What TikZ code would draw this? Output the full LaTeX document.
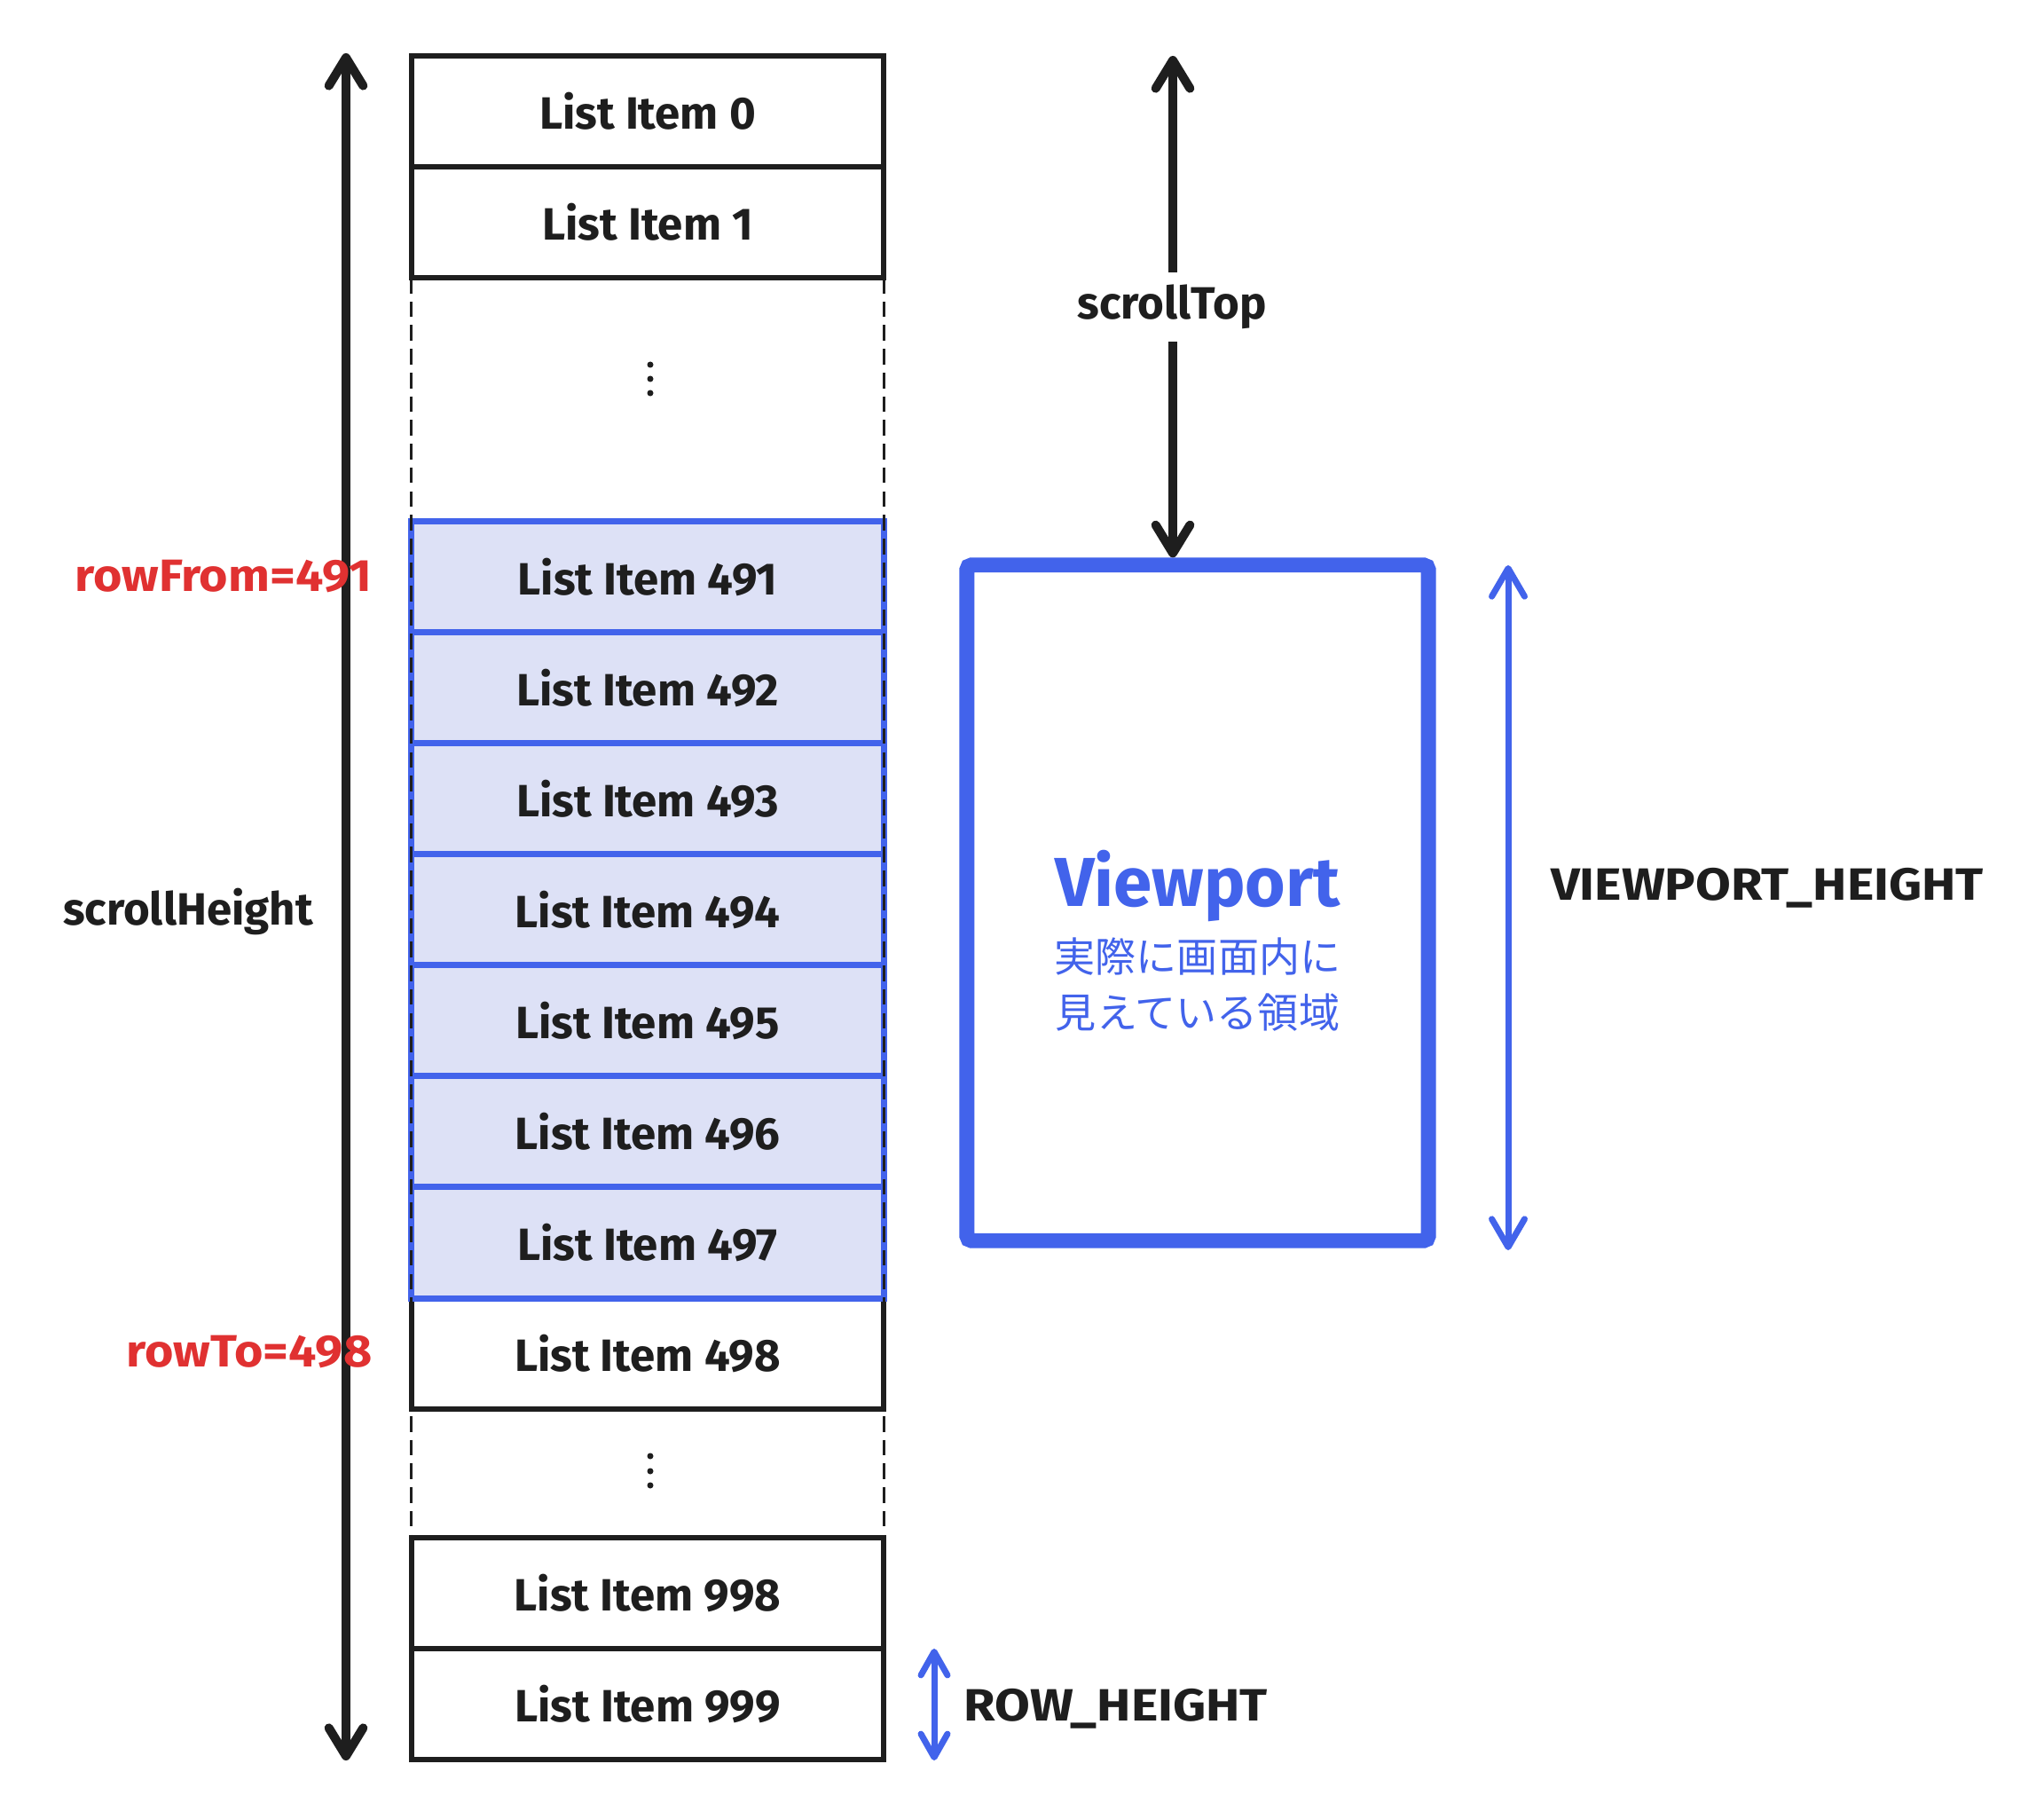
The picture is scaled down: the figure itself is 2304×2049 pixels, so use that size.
\documentclass[tikz,border=0pt]{standalone}
\usepackage{fontspec}
\setmainfont{Fira Sans}
\newfontfamily\capsfont[FakeStretch=1.13]{Fira Sans}
\newfontfamily\redfont[FakeStretch=1.09]{Fira Sans}
\newfontfamily\cjkfont{Noto Sans CJK JP}
\usetikzlibrary{arrows.meta}
\definecolor{ink}{HTML}{1E1E1E}
\definecolor{vblue}{HTML}{4263EB}
\definecolor{vfill}{HTML}{DDE1F6}
\definecolor{vred}{HTML}{E03131}
\newcommand\lblfont{\fontsize{14.5pt}{17pt}\selectfont\bfseries}
\tikzset{
  itembox/.style={draw=ink, line width=1.7pt, minimum width=5.32cm, minimum height=1.25cm,
    outer sep=0pt, inner sep=0pt, font=\lblfont, text=ink},
  vitembox/.style={itembox, draw=vblue, fill=vfill, line width=2pt},
  dashline/.style={draw=ink, line width=0.85pt, dash pattern=on 5pt off 2.6pt},
  lbl/.style={font=\lblfont, text=ink, inner sep=0pt},
  capslbl/.style={font=\capsfont\lblfont, text=ink, inner sep=0pt},
  redlbl/.style={font=\redfont\lblfont, text=vred, inner sep=0pt, anchor=east},
  dotmark/.style={circle, fill=ink, inner sep=0pt, minimum size=0.07cm},
  bigarrow/.style={draw=ink, line width=2.85pt, line cap=round,
    {Straight Barb[length=9pt,width=11pt,line cap=round,line join=round]}-{Straight Barb[length=9pt,width=11pt,line cap=round,line join=round]}},
  bluearrow/.style={draw=vblue, line width=2pt, line cap=round,
    {Straight Barb[length=9pt,width=10.5pt,line cap=round,line join=round]}-{Straight Barb[length=9pt,width=10.5pt,line cap=round,line join=round]}},
  smallarrow/.style={bluearrow, {Straight Barb[length=7.5pt,width=8.5pt,line cap=round,line join=round]}-{Straight Barb[length=7.5pt,width=8.5pt,line cap=round,line join=round]}}
}
\begin{document}
\begin{tikzpicture}[x=0.01cm,y=-0.01cm]
\useasboundingbox[fill=white] (0,0) rectangle (2304,2049);

% plain rows
\node[itembox] (i0) at (730,125.5) {List Item 0};
\node[itembox] (i1) at (730,250.5) {List Item 1};
\node[itembox] (i498) at (730,1525.5) {List Item 498};
\node[itembox] (i998) at (730,1795.5) {List Item 998};
\node[itembox] (i999) at (730,1920.5) {List Item 999};

% rendered (blue) rows
\node[vitembox] (i491) at (730,650.5) {List Item 491};
\node[vitembox] (i492) at (730,775.5) {List Item 492};
\node[vitembox] (i493) at (730,900.5) {List Item 493};
\node[vitembox] (i494) at (730,1025.5) {List Item 494};
\node[vitembox] (i495) at (730,1150.5) {List Item 495};
\node[vitembox] (i496) at (730,1275.5) {List Item 496};
\node[vitembox] (i497) at (730,1400.5) {List Item 497};

% dashed sides of the omitted part
\draw[dashline] (i1.south west) -- (i998.north west);
\draw[dashline] (i1.south east) -- (i998.north east);

% vertical ellipses
\node[dotmark] (da1) at (733,411) {};
\node[dotmark] (da2) at (733,427) {};
\node[dotmark] (da3) at (733,443) {};
\node[dotmark] (db1) at (733,1641) {};
\node[dotmark] (db2) at (733,1658) {};
\node[dotmark] (db3) at (733,1674) {};

% scrollHeight arrow
\coordinate (sh1) at (390,60);
\coordinate (sh2) at (390,1984);
\draw[bigarrow] (sh1) -- (sh2);
\node[lbl] (shl) at (212,1027) {scrollHeight};
\node[redlbl] (rf) at (420,650) {rowFrom=491};
\node[redlbl] (rt) at (420,1524) {rowTo=498};

% viewport
\node[draw=vblue, line width=4.8pt, minimum width=5.2cm, minimum height=7.61cm,
  rounded corners=1.5pt, inner sep=0pt] (vp) at (1350,1017.5) {};
\node[font=\fontsize{22.2pt}{26pt}\selectfont\bfseries, text=vblue, inner sep=0pt] (vpt) at (1350,999) {Viewport};
\node[font=\cjkfont\fontsize{13.1pt}{16pt}\selectfont, text=vblue, inner sep=0pt] (jp1) at (1350,1078) {実際に画面内に};
\node[font=\cjkfont\fontsize{13.1pt}{16pt}\selectfont, text=vblue, inner sep=0pt] (jp2) at (1350,1141) {見えている領域};

% scrollTop arrow
\coordinate (st1) at (1322,63);
\draw[bigarrow] (st1) -- (vp.north -| st1);
\node[lbl, fill=white, inner sep=4pt] (stl) at (1321,346) {scrollTop};

% viewport height
\coordinate (vh1) at (1700,637);
\coordinate (vh2) at (1700,1409);
\draw[bluearrow] (vh1) -- (vh2);
\node[capslbl] (vhl) at (1992,1001) {VIEWPORT\_HEIGHT};

% row height
\coordinate (rh1) at (1053,1858);
\coordinate (rh2) at (1053,1984);
\draw[smallarrow] (rh1) -- (rh2);
\node[capslbl] (rhl) at (1258,1926) {ROW\_HEIGHT};
\end{tikzpicture}
\end{document}
